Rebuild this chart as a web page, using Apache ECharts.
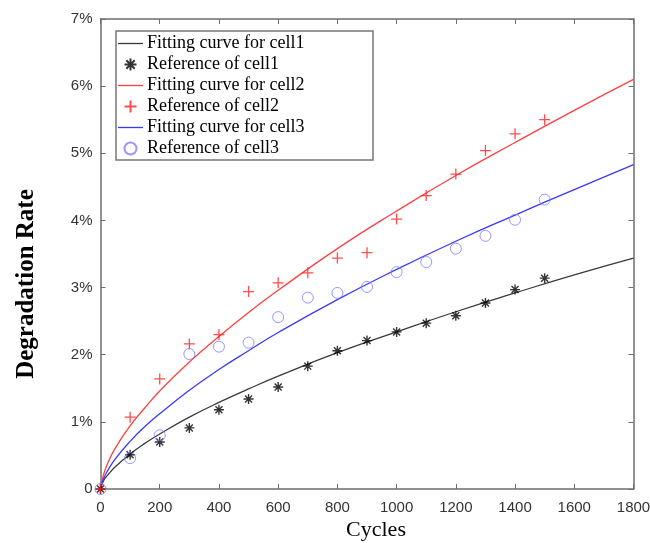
<!DOCTYPE html>
<html>
<head>
<meta charset="utf-8">
<script src="https://cdn.jsdelivr.net/npm/echarts@6/dist/echarts.min.js"></script>
<style>
  html, body { margin: 0; padding: 0; background: #fff; }
  #chart { width: 650px; height: 543px; }
</style>
</head>
<body>
<div id="chart"></div>
<script>
// Measured reference points (degradation rate in %)
const cycles   = [0, 100, 200, 300, 400, 500, 600, 700, 800, 900, 1000, 1100, 1200, 1300, 1400, 1500];
const cell1Ref = [0, 0.51, 0.70, 0.91, 1.18, 1.34, 1.52, 1.83, 2.06, 2.21, 2.34, 2.47, 2.58, 2.77, 2.97, 3.14];
const cell2Ref = [0, 1.07, 1.64, 2.16, 2.30, 2.94, 3.07, 3.22, 3.44, 3.52, 4.02, 4.37, 4.69, 5.04, 5.29, 5.50];
const cell3Ref = [0, 0.46, 0.80, 2.01, 2.12, 2.18, 2.56, 2.85, 2.92, 3.01, 3.23, 3.38, 3.58, 3.77, 4.01, 4.31];

// Fitting curves sampled along the cycle axis
const fitCycles = [0, 10, 25, 50, 100, 150, 200, 300, 400, 500, 600, 800, 1000, 1200, 1400, 1600, 1800];
const cell1Fit  = [0, 0.12, 0.21, 0.33, 0.52, 0.68, 0.82, 1.07, 1.29, 1.49, 1.68, 2.03, 2.34, 2.64, 2.92, 3.19, 3.44];
const cell2Fit  = [0, 0.21, 0.39, 0.61, 0.94, 1.21, 1.46, 1.89, 2.27, 2.63, 2.96, 3.58, 4.14, 4.67, 5.16, 5.64, 6.10];
const cell3Fit  = [0, 0.15, 0.28, 0.45, 0.71, 0.93, 1.12, 1.47, 1.78, 2.06, 2.33, 2.82, 3.27, 3.69, 4.08, 4.46, 4.83];

const seriesNames = [
  'Fitting curve for cell1', 'Reference of cell1',
  'Fitting curve for cell2', 'Reference of cell2',
  'Fitting curve for cell3', 'Reference of cell3'
];

const pair = (xs, ys) => xs.map((x, i) => [x, ys[i]]);

const STAR = 'path://M-5,0L5,0M0,-5L0,5M-3.5,-3.5L3.5,3.5M-3.5,3.5L3.5,-3.5';
const PLUS = 'path://M-5,0L5,0M0,-5L0,5';
// thin bar used as the legend key of the fitted curves
const LINE_KEY = 'path://M0,0H25V1.3H0Z';

const axisColor = '#6e6e6e';
const tickFont = { fontFamily: 'Liberation Sans', fontSize: 15, color: '#333' };

const chart = echarts.init(document.getElementById('chart'), null, { renderer: 'canvas' });

function fitSeries(name, ys, color) {
  return {
    name, type: 'line', data: pair(fitCycles, ys),
    smooth: true, symbol: 'none',
    lineStyle: { color, width: 1.3 },
    itemStyle: { color },
    z: 2
  };
}

chart.setOption({
  animation: false,
  backgroundColor: '#fff',
  grid: { left: 100.5, right: 16.5, top: 19, bottom: 54, containLabel: false, outerBoundsMode: 'none' },
  legend: {
    orient: 'vertical',
    left: 116, top: 31,
    data: seriesNames.map((n, i) => (i % 2 === 0 ? { name: n, icon: LINE_KEY } : { name: n })),
    itemWidth: 25, itemHeight: 12, itemGap: 0,
    padding: [2, 4, 1, 2],
    backgroundColor: '#fff',
    borderColor: '#777', borderWidth: 1.5, borderRadius: 0,
    selectedMode: false,
    textStyle: { fontFamily: 'Liberation Serif', fontSize: 18, color: '#000', lineHeight: 21, width: 222, padding: [0, 0, 0, -1] }
  },
  xAxis: [
    {
      type: 'value', min: 0, max: 1800, interval: 200, position: 'bottom',
      axisLine: { show: true, onZero: false, lineStyle: { color: axisColor, width: 1.5 } },
      axisTick: { show: true, inside: true, length: 5, lineStyle: { color: axisColor, width: 1 } },
      axisLabel: Object.assign({ margin: 11, formatter: v => String(v) }, tickFont),
      splitLine: { show: false }
    },
    {
      type: 'value', min: 0, max: 1800, interval: 200, position: 'top',
      axisLine: { show: true, onZero: false, lineStyle: { color: axisColor, width: 1.5 } },
      axisTick: { show: true, inside: true, length: 5, lineStyle: { color: axisColor, width: 1 } },
      axisLabel: { show: false },
      splitLine: { show: false }
    }
  ],
  yAxis: [
    {
      type: 'value', min: 0, max: 7, interval: 1, position: 'left',
      axisLine: { show: true, onZero: false, lineStyle: { color: axisColor, width: 1.5 } },
      axisTick: { show: true, inside: true, length: 5, lineStyle: { color: axisColor, width: 1 } },
      axisLabel: Object.assign({ margin: 8, formatter: v => v === 0 ? '0' : v + '%' }, tickFont),
      splitLine: { show: false }
    },
    {
      type: 'value', min: 0, max: 7, interval: 1, position: 'right',
      axisLine: { show: true, onZero: false, lineStyle: { color: axisColor, width: 1.5 } },
      axisTick: { show: true, inside: true, length: 5, lineStyle: { color: axisColor, width: 1 } },
      axisLabel: { show: false },
      splitLine: { show: false }
    }
  ],
  graphic: [
    {
      type: 'text', x: 27, y: 284, rotation: Math.PI / 2,
      style: { text: 'Degradation Rate', align: 'center', verticalAlign: 'middle',
               font: 'bold 25px "Liberation Serif"', fill: '#000' }
    },
    {
      type: 'text', x: 376, y: 530,
      style: { text: 'Cycles', align: 'center', verticalAlign: 'middle',
               font: '22px "Liberation Serif"', fill: '#000' }
    }
  ],
  series: [
    fitSeries(seriesNames[0], cell1Fit, '#3a3a3a'),
    {
      name: seriesNames[1], type: 'scatter', data: pair(cycles, cell1Ref),
      symbol: STAR, symbolSize: 10,
      itemStyle: { color: '#000', borderColor: '#000', borderWidth: 1.4 },
      z: 3
    },
    fitSeries(seriesNames[2], cell2Fit, '#ff4040'),
    {
      name: seriesNames[3], type: 'scatter', data: pair(cycles, cell2Ref),
      symbol: PLUS, symbolSize: 11,
      itemStyle: { color: '#ff2020', borderColor: '#ff2020', borderWidth: 1.3 },
      z: 3
    },
    fitSeries(seriesNames[4], cell3Fit, '#3a3aff'),
    {
      name: seriesNames[5], type: 'scatter', data: pair(cycles, cell3Ref),
      symbol: 'circle', symbolSize: 11,
      itemStyle: { color: 'rgba(0,0,0,0)', borderColor: '#7d7dff', borderWidth: 1 },
      z: 3
    }
  ]
});
</script>
</body>
</html>
